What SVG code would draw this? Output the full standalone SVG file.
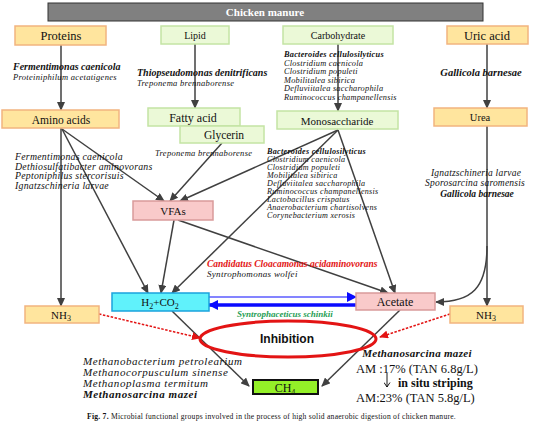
<svg xmlns="http://www.w3.org/2000/svg" width="547" height="425" viewBox="0 0 547 425">
<defs>
<marker id="ah" markerUnits="userSpaceOnUse" markerWidth="9" markerHeight="8" refX="8" refY="4" orient="auto"><path d="M0,0 L9,4 L0,8 z" fill="#404040"/></marker>
<marker id="ahb" markerUnits="userSpaceOnUse" markerWidth="10" markerHeight="10" refX="9" refY="5" orient="auto"><path d="M0,0 L10,5 L0,10 z" fill="#0a0aff"/></marker>
<marker id="ahr" markerUnits="userSpaceOnUse" markerWidth="9" markerHeight="8" refX="8" refY="4" orient="auto"><path d="M0,0 L9,4 L0,8 z" fill="#e31414"/></marker>
<marker id="ahk" markerUnits="userSpaceOnUse" markerWidth="7" markerHeight="7" refX="3.5" refY="6.5" orient="0"><path d="M0.5,2 L3.5,6.5 L6.5,2" fill="none" stroke="#000" stroke-width="0.9"/></marker>
</defs>
<style>
text{font-family:"Liberation Serif","Times New Roman",serif;fill:#111}
.c{text-anchor:middle}
.i{font-style:italic}
.b{font-weight:bold}
.or{fill:#ffe59e;stroke:#f2b47f;stroke-width:1.5}
.gr{fill:#ebf9d7;stroke:#c4e4a4;stroke-width:1.5}
.pk{fill:#f9caca;stroke:#d99a9a;stroke-width:1.5}
.ln{stroke:#404040;stroke-width:1.5;fill:none;marker-end:url(#ah)}
.rd{stroke:#e31414;stroke-width:1.5;stroke-dasharray:2.5,1.5;fill:none;marker-end:url(#ahr)}
</style>
<rect width="547" height="425" fill="#fff"/>

<g id="title">
<rect x="48" y="3" width="435" height="18" fill="#808080" stroke="#333" stroke-width="1"/>
<text x="265" y="16" class="c b" font-size="11" style="fill:#fff">Chicken manure</text>
</g>

<g id="connectors">
<line class="ln" x1="61" y1="45" x2="61" y2="110"/>
<line class="ln" x1="195" y1="44" x2="195" y2="108"/>
<line class="ln" x1="338" y1="44" x2="338" y2="111"/>
<line class="ln" x1="487" y1="44" x2="487" y2="108"/>
<line class="ln" x1="61" y1="128" x2="61" y2="306"/>
<line class="ln" x1="62" y1="129" x2="164" y2="201"/>
<line class="ln" x1="62" y1="129" x2="148" y2="293"/>
<line class="ln" x1="222" y1="143" x2="170" y2="201"/>
<line class="ln" x1="338" y1="130" x2="180" y2="201"/>
<line class="ln" x1="338" y1="130" x2="172" y2="293"/>
<line class="ln" x1="338" y1="130" x2="395" y2="293"/>
<line class="ln" x1="174" y1="220" x2="161" y2="293"/>
<line class="ln" x1="178" y1="220" x2="388" y2="293"/>
<line class="ln" x1="487" y1="126" x2="487" y2="306"/>
<path class="ln" d="M487,246 C487,288 472,302 436,302"/>
<line class="ln" x1="172" y1="311" x2="249" y2="386"/>
<line class="ln" x1="400" y1="310" x2="322" y2="386"/>
<line x1="209" y1="297" x2="356" y2="297" stroke="#0a0aff" stroke-width="1.2" marker-end="url(#ahb)"/>
<line x1="356" y1="305" x2="209" y2="305" stroke="#0a0aff" stroke-width="3.5" marker-end="url(#ahb)"/>
<line class="rd" x1="99" y1="314" x2="200" y2="338"/>
<line class="rd" x1="450" y1="314" x2="380" y2="337"/>
<line x1="387" y1="373" x2="387" y2="387" stroke="#000" stroke-width="0.9" marker-end="url(#ahk)"/>
</g>

<g id="proteins"><rect class="or" x="15" y="26" width="91" height="19"/><text x="61" y="40" class="c" font-size="12.5">Proteins</text></g>
<g id="lipid"><rect class="gr" x="161" y="26" width="68" height="18"/><text x="195" y="38.5" class="c" font-size="10">Lipid</text></g>
<g id="carbohydrate"><rect class="gr" x="283" y="26" width="110" height="18"/><text x="338" y="38.5" class="c" font-size="10">Carbohydrate</text></g>
<g id="uric-acid"><rect class="or" x="447" y="26" width="81" height="18"/><text x="487" y="39.5" class="c" font-size="12.5">Uric acid</text></g>

<g id="amino-acids"><rect class="or" x="2" y="110" width="117" height="18"/><text x="61" y="123.5" class="c" font-size="11.5">Amino acids</text></g>
<g id="fatty-acid"><rect class="gr" x="148" y="108" width="92" height="18"/><text x="193" y="121.5" class="c" font-size="12">Fatty acid</text></g>
<g id="glycerin"><rect class="gr" x="180" y="126" width="84" height="17"/><text x="224" y="139" class="c" font-size="11.5">Glycerin</text></g>
<g id="monosaccharide"><rect class="gr" x="277" y="111" width="121" height="18"/><text x="337" y="124.5" class="c" font-size="11">Monosaccharide</text></g>
<g id="urea"><rect class="or" x="434" y="108" width="93" height="18"/><text x="480" y="121" class="c" font-size="10.5">Urea</text></g>
<g id="vfas"><rect class="pk" x="133" y="201" width="80" height="19"/><text x="173" y="214.5" class="c" font-size="11">VFAs</text></g>
<g id="h2co2"><rect x="112" y="293" width="97" height="18" fill="#60f2fb" stroke="#1aa3dd" stroke-width="1.5"/><text x="160" y="306" class="c" font-size="11">H<tspan font-size="8" dy="2.5">2</tspan><tspan dy="-2.5">+CO</tspan><tspan font-size="8" dy="2.5">2</tspan></text></g>
<g id="acetate"><rect class="pk" x="356" y="293" width="79" height="17"/><text x="395" y="306" class="c" font-size="12">Acetate</text></g>
<g id="nh3-left"><rect class="or" x="25" y="306" width="74" height="17"/><text x="61" y="318.5" class="c" font-size="11">NH<tspan font-size="8" dy="2.5">3</tspan></text></g>
<g id="nh3-right"><rect class="or" x="450" y="306" width="73" height="17"/><text x="486" y="318.5" class="c" font-size="11">NH<tspan font-size="8" dy="2.5">3</tspan></text></g>
<g id="ch4"><rect x="253" y="380" width="65" height="14" fill="#94f028" stroke="#111" stroke-width="2"/><text x="285" y="392" class="c" font-size="12">CH<tspan font-size="8" dy="2.5">4</tspan></text></g>
<g id="inhibition"><ellipse cx="288" cy="339" rx="88" ry="18" fill="none" stroke="#e31414" stroke-width="3"/><text x="287" y="343" class="c b" font-size="12" style="font-family:'Liberation Sans',Arial,sans-serif">Inhibition</text></g>

<g id="labels">
<text x="13" y="70" class="i b" font-size="10">Fermentimonas caenicola</text>
<text x="13" y="80" class="i" font-size="8.5" letter-spacing="0.3">Proteiniphilum acetatigenes</text>
<text x="137" y="76" class="i b" font-size="10">Thiopseudomonas denitrificans</text>
<text x="137" y="86" class="i" font-size="8.5" letter-spacing="0.3">Treponema brennaborense</text>
<text x="155" y="156" class="i" font-size="8.5" letter-spacing="0.3">Treponema brennaborense</text>
<g class="i" font-size="8.3" letter-spacing="0.25">
<text x="284" y="57" class="b">Bacteroides cellulosilyticus</text>
<text x="284" y="65.5">Clostridium caenicola</text>
<text x="284" y="74">Clostridium populeti</text>
<text x="284" y="82.5">Mobilitalea sibirica</text>
<text x="284" y="91">Defluviitalea saccharophila</text>
<text x="284" y="99.5">Ruminococcus  champanellensis</text>
</g>
<g class="i" font-size="8.1" letter-spacing="0.3">
<text x="267" y="154" class="b">Bacteroides cellulosilyticus</text>
<text x="267" y="162">Clostridium caenicola</text>
<text x="267" y="170">Clostridium populeti</text>
<text x="267" y="178">Mobilitalea sibirica</text>
<text x="267" y="186">Defluviitalea saccharophila</text>
<text x="267" y="194">Ruminococcus  champanellensis</text>
<text x="267" y="202">Lactobacillus crispatus</text>
<text x="267" y="210">Anaerobacterium chartisolvens</text>
<text x="267" y="218">Corynebacterium xerosis</text>
</g>
<g class="i" font-size="9.8" letter-spacing="0.25">
<text x="15" y="160">Fermentimonas caenicola</text>
<text x="15" y="169.5">Dethiosulfatibacter aminovorans</text>
<text x="15" y="179">Peptoniphilus stercorisuis</text>
<text x="15" y="188.5">Ignatzschineria larvae</text>
</g>
<text x="481" y="76" class="c i b" font-size="10.5">Gallicola barnesae</text>
<text x="476" y="176" class="c i" font-size="9.5" letter-spacing="0.2">Ignatzschineria larvae</text>
<text x="475" y="186" class="c i" font-size="9.5" letter-spacing="0.2">Sporosarcina saromensis</text>
<text x="477" y="196.5" class="c i b" font-size="9.5">Gallicola barnesae</text>
<text x="207" y="267" class="i b" font-size="9.5" style="fill:#e31414">Candidatus Cloacamonas acidaminovorans</text>
<text x="207" y="277" class="i" font-size="9" letter-spacing="0.3">Syntrophomonas wolfei</text>
<text x="285" y="317" class="c i b" font-size="9" style="fill:#1f9e55">Syntrophaceticus schinkii</text>
<g class="i" font-size="11" letter-spacing="0.55">
<text x="83" y="365">Methanobacterium petrolearium</text>
<text x="83" y="376">Methanocorpusculum sinense</text>
<text x="83" y="387">Methanoplasma termitum</text>
<text x="83" y="398" class="b">Methanosarcina mazei</text>
</g>
<text x="417" y="357" class="c i b" font-size="11" letter-spacing="0.3">Methanosarcina mazei</text>
<text x="356" y="373" font-size="12.5">AM :17% (TAN 6.8g/L)</text>
<text x="398" y="387" class="b" font-size="12">in situ striping</text>
<text x="356" y="402" font-size="12.5">AM:23% (TAN 5.8g/L)</text>
</g>

<text x="87" y="419" font-size="7.6" letter-spacing="0.25"><tspan class="b">Fig. 7.</tspan> Microbial functional groups involved in the process of high solid anaerobic digestion of chicken manure.</text>
</svg>
